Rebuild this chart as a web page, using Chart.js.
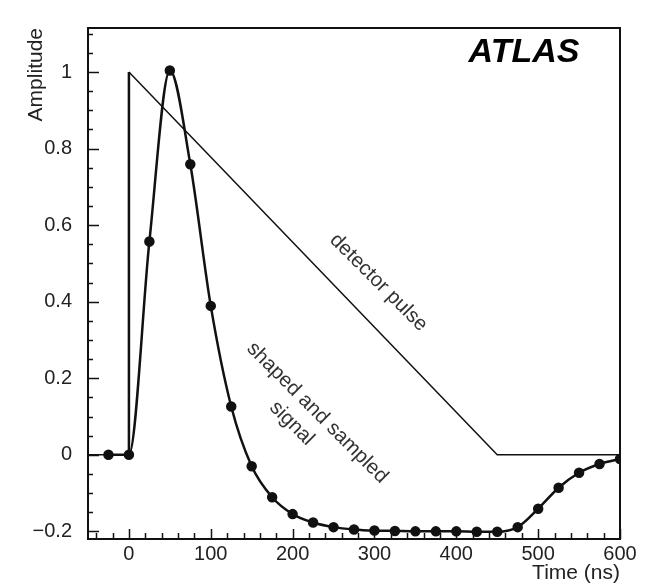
<!DOCTYPE html>
<html>
<head>
<meta charset="utf-8">
<script src="https://cdn.jsdelivr.net/npm/chart.js@4/dist/chart.umd.min.js"></script>
<style>
    html, body { margin: 0; padding: 0; background: #ffffff; }
    #wrap { width: 646px; height: 586px; }
</style>
</head>
<body>
<div id="wrap"><canvas id="pulseChart"></canvas></div>
<script>
// Данные: импульс детектора (треугольник)
const pulseTime = [-50, 0, 0, 450, 600];
const pulseAmp = [0, 0, 1, 0, 0];

// Данные: сформированный сигнал, выборки каждые 25 нс
const sampleTime = [-25, 0, 25, 50, 75, 100, 125, 150, 175, 200, 225, 250, 275, 300,
    325, 350, 375, 400, 425, 450, 475, 500, 525, 550, 575, 600];
const sampleAmp = [0, 0, 0.557, 1.004, 0.759, 0.389, 0.126, -0.030, -0.111, -0.155,
    -0.177, -0.189, -0.195, -0.198, -0.199, -0.200, -0.200, -0.200, -0.201, -0.201,
    -0.189, -0.141, -0.086, -0.047, -0.024, -0.011];

// Шаг подписей осей
const xTickStep = 100;
const yTickStep = 0.2;

const ink = '#111111';
const textInk = '#222222';
const font = 'Liberation Sans, Arial, Helvetica, sans-serif';

function toPoints(xs, ys) {
    return xs.map((x, i) => ({ x: x, y: ys[i] }));
}

// Рамка, внутренние засечки и надписи
const framePlugin = {
    id: 'frame',
    afterDraw(chart) {
        const { ctx, chartArea: a, scales: { x, y } } = chart;
        ctx.save();
        ctx.strokeStyle = ink;
        ctx.lineWidth = 2;
        ctx.strokeRect(a.left, a.top, a.right - a.left, a.bottom - a.top);

        // засечки по X
        ctx.lineWidth = 1.5;
        ctx.beginPath();
        for (let t = -40; t <= 600; t += 20) {
            const px = Math.round(x.getPixelForValue(t)) + 0.5;
            const len = t % 100 === 0 ? 10 : 6;
            ctx.moveTo(px, a.bottom);
            ctx.lineTo(px, a.bottom - len);
        }
        // засечки по Y
        for (let k = -4; k <= 22; k++) {
            const v = k * 0.05;
            const py = Math.round(y.getPixelForValue(v)) + 0.5;
            if (py < a.top || py > a.bottom) continue;
            const len = k % 4 === 0 ? 11 : 5;
            ctx.moveTo(a.left, py);
            ctx.lineTo(a.left + len, py);
        }
        ctx.stroke();

        // ATLAS
        ctx.fillStyle = '#000000';
        ctx.font = 'italic bold 34px ' + font;
        ctx.textAlign = 'center';
        ctx.textBaseline = 'middle';
        ctx.fillText('ATLAS', 524, 53);

        // наклонные подписи кривых
        ctx.fillStyle = '#333333';
        ctx.font = '20.5px ' + font;
        const labels = [
            { text: 'detector pulse', t: 305, v: 0.45 },
            { text: 'shaped and sampled', t: 230, v: 0.11 },
            { text: 'signal', t: 199, v: 0.082 }
        ];
        labels.forEach(l => {
            ctx.save();
            ctx.translate(x.getPixelForValue(l.t), y.getPixelForValue(l.v));
            ctx.rotate(Math.PI / 4);
            ctx.fillText(l.text, 0, 0);
            ctx.restore();
        });
        ctx.restore();
    }
};

document.addEventListener('DOMContentLoaded', function() {
    const c = document.getElementById('pulseChart').getContext('2d');
    new Chart(c, {
        type: 'scatter',
        data: {
            datasets: [
                {
                    label: 'detector pulse',
                    data: toPoints(pulseTime, pulseAmp),
                    showLine: true,
                    borderColor: ink,
                    borderWidth: 1.5,
                    pointRadius: 0,
                    segment: {
                        borderWidth: ctx => ctx.p0DataIndex === 1 ? 2.5 : 1.5
                    }
                },
                {
                    label: 'shaped and sampled signal',
                    data: toPoints(sampleTime, sampleAmp),
                    showLine: true,
                    cubicInterpolationMode: 'monotone',
                    borderColor: ink,
                    borderWidth: 2.5,
                    pointRadius: 4,
                    pointBackgroundColor: ink,
                    pointBorderColor: ink
                }
            ]
        },
        options: {
            responsive: true,
            maintainAspectRatio: false,
            animation: false,
            layout: { padding: { top: 8, right: 26, left: 0, bottom: 0 } },
            plugins: {
                legend: { display: false },
                tooltip: { enabled: false }
            },
            scales: {
                x: {
                    type: 'linear',
                    min: -50,
                    max: 600,
                    afterFit: s => { s.height = 47; },
                    grid: { display: false, drawTicks: false },
                    border: { display: false },
                    ticks: {
                        stepSize: xTickStep,
                        includeBounds: false,
                        padding: 3,
                        maxRotation: 0,
                        color: textInk,
                        font: { family: font, size: 20 }
                    },
                    title: {
                        display: true,
                        text: 'Time (ns)',
                        align: 'end',
                        color: textInk,
                        padding: { top: 0, bottom: 0 },
                        font: { family: font, size: 21 }
                    }
                },
                y: {
                    type: 'linear',
                    min: -0.22,
                    max: 1.115,
                    afterFit: s => { s.width = 88; },
                    grid: { display: false, drawTicks: false },
                    border: { display: false },
                    ticks: {
                        stepSize: yTickStep,
                        includeBounds: false,
                        padding: 16,
                        color: textInk,
                        font: { family: font, size: 20 },
                        callback: v => {
                            const r = Number(v.toFixed(1));
                            return r < 0 ? '\u2212' + Math.abs(r) : String(r);
                        }
                    },
                    title: {
                        display: true,
                        text: 'Amplitude',
                        align: 'end',
                        color: textInk,
                        padding: { top: 24, bottom: 0 },
                        font: { family: font, size: 21 }
                    }
                }
            }
        },
        plugins: [framePlugin]
    });
});
</script>
</body>
</html>
